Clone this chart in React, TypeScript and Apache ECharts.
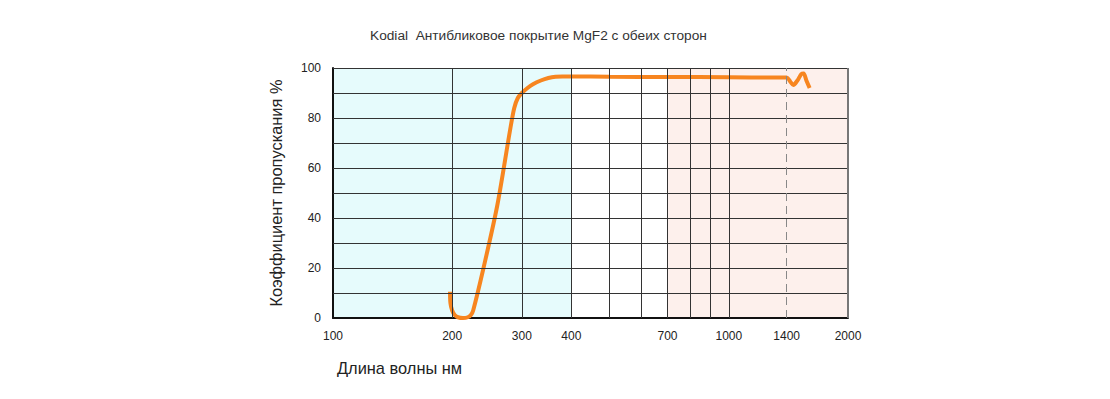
import React, { useEffect, useRef } from "react";
import * as echarts from "echarts";

const titleText = "Kodial  Антибликовое покрытие MgF2 с обеих сторон";
const yAxisName = "Коэффициент пропускания %";
const xAxisName = "Длина волны нм";

const wavelengths = [197.5, 198, 200, 203, 207, 213, 219, 223, 226, 240, 260, 280, 287, 293, 300, 310, 320, 335, 350, 365, 380, 400, 500, 700, 1000, 1300, 1400, 1430, 1455, 1490, 1525, 1545, 1570, 1600];
const transmission = [10.5, 6, 3, 1.2, 0.3, 0, 0.3, 1.2, 3, 20, 45, 75, 84, 88, 90, 92, 93.5, 95, 96, 96.5, 96.6, 96.6, 96.5, 96.4, 96.3, 96.2, 96.2, 94.5, 93.2, 95, 97.6, 97.8, 95, 92];

const xTickLabels = [100, 200, 300, 400, 700, 1000, 1400, 2000];
const verticalGrid = [200, 300, 400, 500, 600, 700, 800, 900, 1000];
const horizontalGrid = [10, 20, 30, 40, 50, 60, 70, 80, 90, 100];
const dashedMark = 1400;
const rightEdge = 2000;
const uvBand = [100, 400];
const irBand = [700, 2000];

const FONT = "'Liberation Sans', Arial, sans-serif";

export default function App() {
  const ref = useRef<HTMLDivElement>(null);
  useEffect(() => {
    if (!ref.current) return;
    const chart = echarts.init(ref.current, null, { renderer: "svg" });
    chart.setOption({
      animation: false,
      backgroundColor: "#ffffff",
      textStyle: { fontFamily: FONT },
      title: {
        text: titleText,
        left: 357,
        top: 15,
        textStyle: { fontSize: 13.7, fontWeight: "normal", color: "#333", fontFamily: FONT },
      },
      graphic: [
        {
          type: "text",
          left: 329,
          top: 352,
          style: { text: xAxisName, fontSize: 16.4, fill: "#222", fontFamily: FONT },
        },
      ],
      grid: {
        left: 325,
        right: 254,
        top: 60,
        bottom: 73,
        show: false,
      },
      xAxis: {
        type: "log",
        logBase: 10,
        min: 100,
        max: 2000,
        z: 2,
        axisLine: { show: true, lineStyle: { color: "#111", width: 2 } },
        axisTick: { show: false },
        splitLine: { show: false },
        minorSplitLine: { show: false },
        axisLabel: {
          customValues: xTickLabels,
          color: "#222",
          fontSize: 12,
          margin: 12,
          fontFamily: FONT,
          formatter: (v: number) => String(Math.round(v)),
        },
      },
      yAxis: {
        type: "value",
        min: 0,
        max: 100,
        interval: 10,
        z: 2,
        name: yAxisName,
        nameLocation: "middle",
        nameGap: 49,
        nameTextStyle: { fontSize: 16.4, color: "#222", fontFamily: FONT },
        axisLine: { show: true, lineStyle: { color: "#111", width: 2 } },
        axisTick: { show: false },
        axisLabel: {
          color: "#222",
          fontSize: 12,
          margin: 12,
          fontFamily: FONT,
          formatter: (v: number) => (v % 20 === 0 ? String(v) : ""),
        },
        splitLine: { show: false },
      },
      series: [
        {
          type: "line",
          data: [],
          z: 0,
          silent: true,
          markArea: {
            silent: true,
            data: [
              [
                { xAxis: uvBand[0], itemStyle: { color: "#e6fbfc" } },
                { xAxis: uvBand[1] },
              ],
              [
                { xAxis: irBand[0], itemStyle: { color: "#fdf0ec" } },
                { xAxis: irBand[1] },
              ],
            ],
          },
        },
        {
          type: "line",
          data: [],
          z: 1,
          silent: true,
          markLine: {
            silent: true,
            symbol: ["none", "none"],
            label: { show: false },
            data: [
              ...horizontalGrid.map((v) => ({
                yAxis: v,
                lineStyle: { color: "#333", width: 1, type: "solid" },
              })),
              ...verticalGrid.map((v) => ({
                xAxis: v,
                lineStyle: { color: "#333", width: 1, type: "solid" },
              })),
              {
                xAxis: dashedMark,
                lineStyle: { color: "#888", width: 1, type: [8, 5] },
              },
              {
                xAxis: rightEdge,
                lineStyle: { color: "#777", width: 2, type: "solid" },
              },
            ],
          },
        },
        {
          type: "line",
          z: 3,
          smooth: 0.3,
          showSymbol: false,
          symbol: "none",
          lineStyle: { color: "#f7851f", width: 4 },
          data: wavelengths.map((w, i) => [w, transmission[i]]),
        },
      ],
    });
    return () => chart.dispose();
  }, []);
  return <div ref={ref} style={{ width: 1094, height: 383 }} />;
}
